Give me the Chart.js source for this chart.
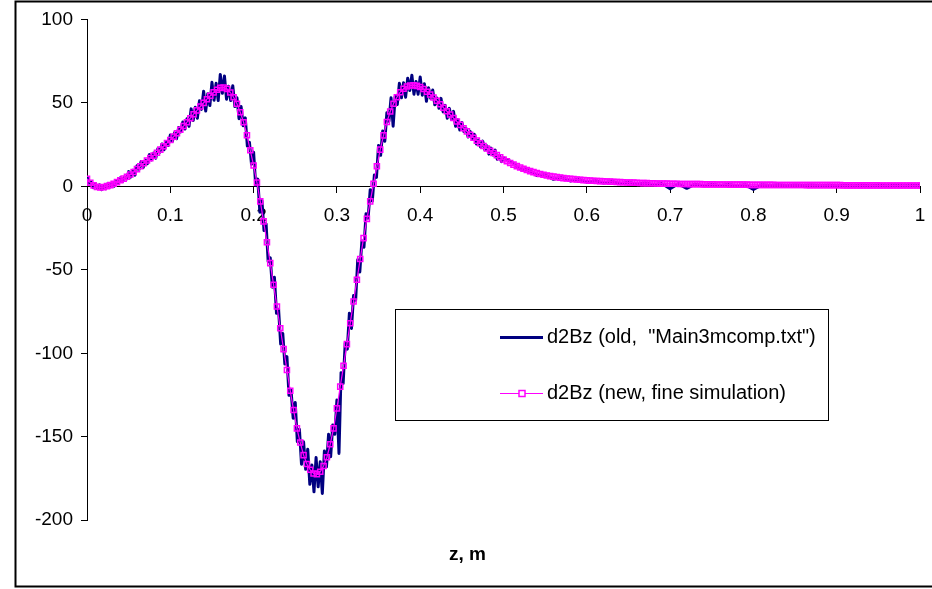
<!DOCTYPE html>
<html>
<head>
<meta charset="utf-8">
<title>d2Bz vs z</title>
<script src="https://cdn.jsdelivr.net/npm/chart.js@4/dist/chart.umd.min.js"></script>
<style>
  html, body { margin: 0; padding: 0; background: #ffffff; }
  #wrap { width: 932px; height: 589px; }
  canvas { display: block; }
</style>
</head>
<body>
<div id="wrap"><canvas id="chart" width="932" height="589"></canvas></div>
<script>
// ---- axis ticks ----
const xTickValues = [0, 0.1, 0.2, 0.3, 0.4, 0.5, 0.6, 0.7, 0.8, 0.9, 1];
const xTickLabels = ["0", "0.1", "0.2", "0.3", "0.4", "0.5", "0.6", "0.7", "0.8", "0.9", "1"];
const yTickValues = [-200, -150, -100, -50, 0, 50, 100];
const yTickLabels = ["-200", "-150", "-100", "-50", "0", "50", "100"];

// ---- series labels ----
const oldLabel = 'd2Bz (old,  "Main3mcomp.txt")';
const newLabel = 'd2Bz (new, fine simulation)';
const axisTitle = 'z, m';

// ---- new fine simulation: d2Bz sampled every 0.004 m from z = 0 to 1 ----
const newStep = 0.004;
const newValues = [
  4.5, 2.1, 0.6, -0.3, -0.6, -0.5, 0.1, 0.7, 1.5, 2.5, 3.6, 4.6, 5.7, 7.1, 8.6, 10.3, 12, 13.8, 15.5, 16.9, 18.4, 20.1, 22, 24, 25.9,
  27.8, 29.8, 31.8, 33.9, 36.1, 38.4, 40.8, 43.2, 45.5, 47.8, 50, 52.2, 54.3, 56.3, 57.9, 59, 59.2, 58.4, 56.2, 53.4, 49.5, 44.4, 38.4, 30.6, 21.6,
  12.5, 2.3, -9, -21, -33.5, -46, -59, -72, -85, -97.5, -110, -122.5, -134, -145, -153.5, -161, -166.3, -169.8, -172, -172.4, -171, -167.5, -162.3, -154.5, -145,
  -133, -120, -107.5, -94.5, -82, -69, -56, -43.5, -31, -19.5, -9, 1.5, 12, 22, 30.5, 38.5, 44.8, 49.5, 53.4, 56.4, 58.5, 59.8, 60.4, 60.6, 60.2,
  59.5, 58.3, 56.7, 55, 53.2, 51.3, 49.2, 47.1, 45, 43, 40.9, 38.8, 36.8, 34.8, 32.9, 30.9, 29.1, 27.4, 25.8, 24.2, 22.7, 21.3, 20, 18.7, 17.4,
  16.1, 15, 14, 13, 12.1, 11.3, 10.5, 9.8, 9.1, 8.5, 7.9, 7.4, 6.9, 6.5, 6.1, 5.8, 5.5, 5.2, 4.9, 4.7, 4.5, 4.3, 4.1, 3.9, 3.7,
  3.6, 3.4, 3.3, 3.2, 3.1, 3, 2.9, 2.8, 2.7, 2.6, 2.5, 2.4, 2.3, 2.2, 2.2, 2.1, 2, 1.9, 1.9, 1.8, 1.8, 1.7, 1.7, 1.6, 1.6,
  1.5, 1.5, 1.5, 1.4, 1.4, 1.4, 1.3, 1.3, 1.3, 1.3, 1.2, 1.2, 1.2, 1.2, 1.1, 1.1, 1.1, 1.1, 1.0, 1.0, 1.0, 1.0, 1.0, 1.0, 0.9,
  0.9, 0.9, 0.9, 0.9, 0.9, 0.9, 0.9, 0.8, 0.8, 0.8, 0.8, 0.8, 0.8, 0.8, 0.8, 0.8, 0.7, 0.7, 0.7, 0.7, 0.7, 0.7, 0.7, 0.7, 0.7,
  0.7, 0.7, 0.6, 0.6, 0.6, 0.6, 0.6, 0.6, 0.6, 0.6, 0.6, 0.6, 0.6, 0.5, 0.5, 0.5, 0.5, 0.5, 0.5, 0.5, 0.5, 0.5, 0.5, 0.5, 0.5, 0.5
];

// ---- old data file: every 0.0025 m for z = 0 .. 0.5 ----
const oldFineStep = 0.0025;
const oldFineValues = [
  6, 1.9, 2.5, -0.8, 1.2, -1.2, 0.9, -2, 0.1, -1.4, 1.7, -0.4, 2, 0.1, 3.5, 2.3, 5.1, 2.9, 5.5, 4.4,
  8.8, 5.5, 9.6, 6.7, 12.3, 10.2, 14.9, 11.3, 15.6, 13.6, 19, 15.8, 19.9, 16.9, 22.5, 20.5, 25.4, 21.9, 26.3, 24.5,
  30.8, 26.9, 32.1, 28.5, 35.2, 32.6, 38.5, 34.3, 40.4, 35.9, 46.4, 39.4, 47.4, 40.8, 51.2, 46.1, 57, 45.1, 55.5, 48.4,
  62.3, 51.6, 61.7, 51.4, 67, 55.7, 66.1, 52.2, 59.9, 51.4, 60.3, 47.8, 53.1, 40.5, 47.8, 36.3, 41, 24.1, 26.4, 13.2,
  20.5, 0.7, 4.3, -15.5, -8.6, -26.5, -22.5, -45.2, -42.8, -60.4, -54.5, -76.1, -73.7, -94.5, -88.1, -106.5, -102, -125.2, -122.3, -138.9,
  -129.5, -153, -145.5, -166.5, -153, -169.5, -157.5, -178.5, -167, -183, -162.5, -180, -165, -184, -158.5, -168, -148.5, -162, -143, -148.5,
  -128, -160, -111.6, -118, -93.8, -97.5, -76, -85.1, -65.4, -68.2, -44, -51.3, -32.8, -36.5, -16.4, -19, -2, -8.8, 6.8, 5.4,
  24.5, 18.6, 33.2, 27, 44.1, 39, 53, 36, 53.9, 49, 61.7, 53.1, 62.1, 53.4, 64.8, 57.4, 66.6, 55.2, 62.8, 55.2,
  65.5, 54.6, 61.5, 50.9, 59.1, 52.8, 57.7, 48.9, 52.9, 46.8, 52.7, 44.6, 48.5, 40.8, 46.7, 40.2, 44.9, 36, 39.9, 33.8,
  38.2, 32.8, 34.8, 29.6, 32.9, 28.6, 31.2, 25.4, 27.6, 23.6, 27.1, 21.9, 24.2, 19.3, 22.9, 18.8, 21.7, 16.2, 18.6, 14.8,
  17
];

// ---- old data file: every 0.01 m for z = 0.51 .. 1.0 ----
const oldCoarseStart = 0.51;
const oldCoarseStep = 0.01;
const oldCoarseValues = [
  14.5, 10.5, 9.8, 6.5, 7, 4.2, 5.4, 3.2, 4.3, 2.5,
  3.4, 2, 2.9, 1.6, 2.4, 1.2, 2, 0.9, 1.7, -1.5,
  1.5, -1.2, 1.3, 0.4, 1.2, 0.5, 1.1, 0.4, 1, -1.8,
  0.9, 0.5, 0.9, 0.4, 0.8, 0.5, 0.8, 0.4, 0.7, 0.4,
  0.7, 0.3, 0.7, 0.3, 0.6, 0.3, 0.6, 0.3, 0.5, 0.5
];

// ---- build (z, value) pairs on each sampling grid ----
const round4 = v => Math.round(v * 10000) / 10000;
const newPoints = newValues.map((v, i) => ({ x: round4(i * newStep), y: v }));
const oldPoints = oldFineValues.map((v, i) => ({ x: round4(i * oldFineStep), y: v }))
  .concat(oldCoarseValues.map((v, i) => ({ x: round4(oldCoarseStart + i * oldCoarseStep), y: v })));

const FONT = "'Liberation Sans', Arial, Helvetica, sans-serif";
const OLD_COLOR = '#000080';
const NEW_COLOR = '#ff00ff';

// Outer chart frame and the boxed key on the right
const framePlugin = {
  id: 'frameAndKey',
  afterDraw(chart) {
    const ctx = chart.ctx;
    ctx.save();
    // chart frame (right edge runs past the canvas)
    ctx.strokeStyle = '#000000';
    ctx.lineWidth = 2;
    ctx.strokeRect(15.5, 1.5, 930, 585);

    // key box
    const bx = 395.5, by = 309.5, bw = 433, bh = 111;
    ctx.fillStyle = '#ffffff';
    ctx.fillRect(bx, by, bw, bh);
    ctx.strokeStyle = '#000000';
    ctx.lineWidth = 1;
    ctx.strokeRect(bx, by, bw, bh);

    const rows = [
      { y: 337.5, label: oldLabel, color: OLD_COLOR, width: 3, marker: false },
      { y: 393.5, label: newLabel, color: NEW_COLOR, width: 1, marker: true }
    ];
    ctx.font = '20px ' + FONT;
    ctx.textBaseline = 'middle';
    ctx.textAlign = 'left';
    rows.forEach(r => {
      ctx.strokeStyle = r.color;
      ctx.lineWidth = r.width;
      ctx.beginPath();
      ctx.moveTo(500, r.y);
      ctx.lineTo(543, r.y);
      ctx.stroke();
      if (r.marker) {
        ctx.fillStyle = '#ffffff';
        ctx.fillRect(519, r.y - 3, 6, 6);
        ctx.lineWidth = 1.5;
        ctx.strokeRect(519, r.y - 3, 6, 6);
      }
      ctx.fillStyle = '#000000';
      ctx.fillText(r.label, 547, r.y);
    });
    ctx.restore();
  }
};

new Chart(document.getElementById('chart').getContext('2d'), {
  type: 'line',
  data: {
    datasets: [
      {
        label: oldLabel,
        data: oldPoints,
        borderColor: OLD_COLOR,
        backgroundColor: OLD_COLOR,
        borderWidth: 3,
        borderJoinStyle: 'round',
        pointRadius: 0,
        tension: 0,
        fill: false,
        order: 2
      },
      {
        label: newLabel,
        data: newPoints,
        borderColor: NEW_COLOR,
        backgroundColor: NEW_COLOR,
        borderWidth: 1.2,
        pointStyle: 'rect',
        pointRadius: 3.6,
        pointBorderWidth: 1.5,
        pointBorderColor: NEW_COLOR,
        pointBackgroundColor: 'rgba(0,0,0,0)',
        tension: 0,
        fill: false,
        order: 1
      }
    ]
  },
  options: {
    responsive: false,
    animation: false,
    events: [],
    layout: { padding: { left: 15, top: 19, right: 12, bottom: 23 } },
    scales: {
      x: {
        type: 'linear',
        min: 0,
        max: 1,
        position: { y: 0 },
        afterBuildTicks: s => { s.ticks = xTickValues.map(v => ({ value: v })); },
        // end labels fit inside the outer padding; keep the plot width fixed
        afterFit: s => { s.paddingLeft = 0; s.paddingRight = 0; },
        ticks: {
          callback: (v, i) => xTickLabels[i],
          font: { family: FONT, size: 19 },
          color: '#000000',
          padding: 12,
          maxRotation: 0,
          autoSkip: false
        },
        grid: { drawOnChartArea: false, drawTicks: true, tickLength: 6, color: '#000000' },
        border: { display: true, color: '#000000', width: 1 }
      },
      y: {
        type: 'linear',
        min: -200,
        max: 100,
        afterBuildTicks: s => { s.ticks = yTickValues.map(v => ({ value: v })); },
        afterFit: s => { s.width = 72; },
        ticks: {
          callback: (v, i) => yTickLabels[i],
          font: { family: FONT, size: 19 },
          color: '#000000',
          padding: 8,
          autoSkip: false
        },
        grid: { drawOnChartArea: false, drawTicks: true, tickLength: 6, color: '#000000' },
        border: { display: true, color: '#000000', width: 1 }
      }
    },
    plugins: {
      legend: { display: false },
      tooltip: { enabled: false },
      title: {
        display: true,
        position: 'bottom',
        text: axisTitle,
        color: '#000000',
        font: { family: FONT, size: 19, weight: 'bold' },
        padding: { top: 23, bottom: 0 }
      }
    }
  },
  plugins: [framePlugin]
});
</script>
</body>
</html>
